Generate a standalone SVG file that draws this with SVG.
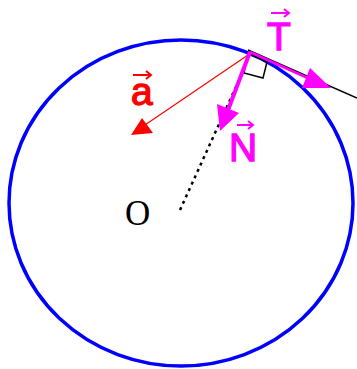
<svg xmlns="http://www.w3.org/2000/svg" width="357" height="369" viewBox="0 0 357 369">
<style>
.lbl{font-family:"Liberation Sans",Arial,sans-serif;font-size:39px;stroke-width:1.3}
.mag{fill:#ff00ff;stroke:#ff00ff}
.red{fill:#ff0000;stroke:#ff0000}
.acc{fill:none;stroke-width:2}
</style>
<rect width="357" height="369" fill="#fff"/>
<g id="circle">
<ellipse cx="181" cy="203" rx="172" ry="163" fill="none" stroke="#0000ff" stroke-width="3.5"/>
</g>
<g id="connectors">
<line x1="248" y1="50" x2="357" y2="98" stroke="#000" stroke-width="1.5"/>
<line x1="180" y1="210" x2="240" y2="78" stroke="#000" stroke-width="2.5" stroke-dasharray="3 4"/>
<polygon points="248,53 267,62 263,78 244,73" fill="none" stroke="#000" stroke-width="1.5"/>
<line x1="248" y1="55" x2="142" y2="127" stroke="#ff0000" stroke-width="1.2"/>
<polygon points="131,135 142,118 153,133" fill="#ff0000"/>
<line x1="250" y1="52" x2="228" y2="110" stroke="#ff00ff" stroke-width="4"/>
<polygon points="220,131 217,104 239,113" fill="#ff00ff"/>
<line x1="250" y1="52" x2="310" y2="79" stroke="#ff00ff" stroke-width="3"/>
<polygon points="331,88 310,68 302,88" fill="#ff00ff"/>
</g>
<g id="label-T">
<text class="lbl mag" x="267" y="50">T</text>
<line class="acc mag" x1="271" y1="13" x2="289" y2="13"/>
<polyline class="acc mag" points="284,9 289,13 284,17"/>
</g>
<g id="label-a">
<text class="lbl red" x="131" y="105">a</text>
<line class="acc red" x1="133" y1="75" x2="151" y2="75"/>
<polyline class="acc red" points="146,71 151,75 146,79"/>
</g>
<g id="label-N">
<text class="lbl mag" x="229" y="161">N</text>
<line class="acc mag" x1="237" y1="125" x2="253" y2="125"/>
<polyline class="acc mag" points="248,121 253,125 248,129"/>
</g>
<g id="label-O">
<text x="125" y="225" font-family="'Liberation Serif','Times New Roman',serif" font-size="35" fill="#000">O</text>
</g>
</svg>
